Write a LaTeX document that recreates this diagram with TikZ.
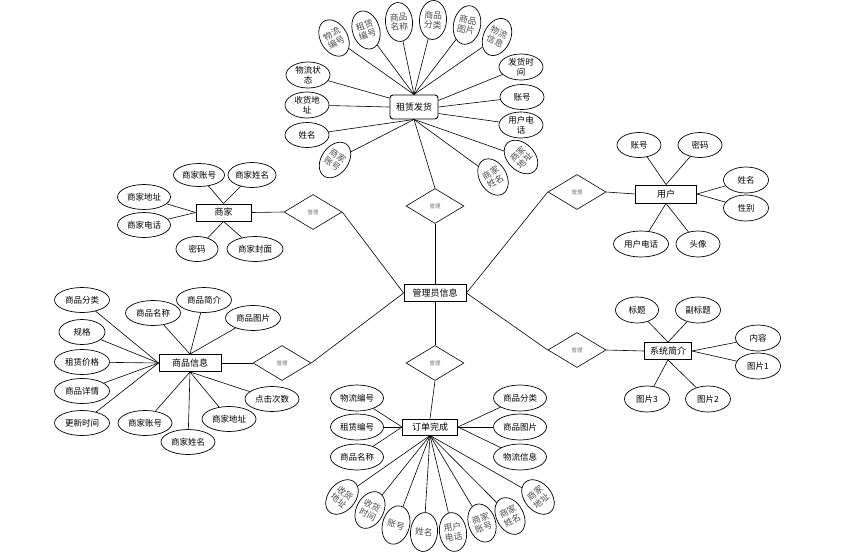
\documentclass[tikz,border=0pt]{standalone}
\usepackage{fontspec}
\newfontfamily\cjk{Noto Sans CJK SC}
\usetikzlibrary{shapes.geometric}

\begin{document}
\begin{tikzpicture}[x=1pt,y=-1pt,
		line width=0.6pt,
		ent/.style={draw,line width=0.9pt,inner sep=0pt,minimum width=#1,minimum height=17pt,font=\cjk\fontsize{9}{10}\selectfont},
		ent/.default=55pt,
		rel/.style={diamond,draw,line width=0.6pt,inner sep=0pt,minimum width=58pt,minimum height=35pt,font=\cjk\fontsize{5.5}{6}\selectfont,text=black!55},
		attr/.style={ellipse,draw,line width=0.7pt,inner sep=0pt,minimum width=#1,minimum height=25pt,align=center,font=\cjk\fontsize{8.5}{9.5}\selectfont},
		attr/.default=44pt,
		rot/.style={ellipse,draw,line width=0.7pt,inner sep=0pt,minimum width=27pt,minimum height=39pt,align=center,font=\cjk\fontsize{8.8}{9.6}\selectfont,text=black!70,rotate=#1},
		rot/.default=0]
	\useasboundingbox (0,0) rectangle (860,555);

	% Entities
	\node[ent=62pt] (admin) at (435,293) {管理员信息};
	\node[ent=48pt,minimum height=24pt,rounded corners=3pt] (rent) at (414,107) {租赁发货};
	\node[ent] (shop) at (223.5,212.5) {商家};
	\node[ent=61pt,minimum height=18pt] (user) at (666,194) {用户};
	\node[ent=62pt] (goods) at (190,363) {商品信息};
	\node[ent=47pt] (intro) at (668,351) {系统简介};
	\node[ent,minimum height=16pt] (order) at (430,427) {订单完成};

	% Relations
	\node[rel] (r1) at (435,206) {管理};
	\node[rel] (r2) at (435,363) {管理};
	\node[rel] (r3) at (313,212) {管理};
	\node[rel] (r4) at (577,192) {管理};
	\node[rel] (r5) at (282,363) {管理};
	\node[rel] (r6) at (577,350) {管理};

	\draw (rent.south) -- (r1.north);
	\draw (r1.south) -- (admin.north);
	\draw (admin.south) -- (r2.north);
	\draw (r2.south) -- (order.north);
	\draw (shop.east) -- (r3.west);
	\draw (r3.east) -- (admin.west);
	\draw (r4.east) -- (user.west);
	\draw (r4.west) -- (admin.east);
	\draw (goods.east) -- (r5.west);
	\draw (r5.east) -- (admin.west);
	\draw (r6.east) -- (intro.west);
	\draw (r6.west) -- (admin.east);

	% Attributes of rent
	\node[rot=30] (wlbh) at (334,38) {物流\\编号};
	\node[rot=18] (zlbh) at (366,30) {租赁\\编号};
	\node[rot=5] (spmc) at (399,22) {商品\\名称};
	\node[rot=-3] (spfl) at (433,20) {商品\\分类};
	\node[rot=-12] (sptp) at (467,25) {商品\\图片};
	\node[rot=-25] (wlxx) at (497,37) {物流\\信息};
	\node[attr,minimum height=26pt] (wlzt) at (308,75) {物流状\\态};
	\node[attr,minimum height=26pt] (shdz) at (307,105) {收货地\\址};
	\node[attr] (xm) at (307,135) {姓名};
	\node[rot=-35] (sjzh) at (335,160) {商家\\账号};
	\node[rot=30] (sjxm) at (493,177) {商家\\姓名};
	\node[rot=45] (sjdz) at (521,157) {商家\\地址};
	\node[attr,minimum height=26pt] (fhsj) at (521,67) {发货时\\间};
	\node[attr] (zh) at (522,97) {账号};
	\node[attr,minimum height=26pt] (yhdh) at (521,125) {用户电\\话};

	\foreach \a in {wlbh,zlbh,spmc,spfl,sptp,wlxx}
		\draw (rent.north) -- (\a);
	\draw (rent.160) -- (wlzt);
	\draw (rent.west) -- (shdz);
	\foreach \a in {xm,sjzh,sjxm,sjdz}
		\draw (rent.south) -- (\a);
	\draw (rent.15) -- (fhsj);
	\draw (rent.east) -- (zh);
	\draw (rent.-15) -- (yhdh);

	% Attributes of shop
	\node[attr=51pt,minimum height=23pt] (s1) at (199,175) {商家账号};
	\node[attr=46pt] (s2) at (252,175) {商家姓名};
	\node[attr=53pt] (s3) at (144,197) {商家地址};
	\node[attr=53pt] (s4) at (144,225) {商家电话};
	\node[attr=42pt] (s5) at (197,249) {密码};
	\node[attr=56pt] (s6) at (255,249) {商家封面};

	\draw (shop.north) -- (s1);
	\draw (shop.north) -- (s2);
	\draw (shop.west) -- (s3);
	\draw (shop.west) -- (s4);
	\draw (shop.south) -- (s5);
	\draw (shop.south) -- (s6);

	% Attributes of user
	\node[attr] (u1) at (639,145) {账号};
	\node[attr] (u2) at (700,145) {密码};
	\node[attr=45pt,minimum height=26pt] (u3) at (746,180) {姓名};
	\node[attr=45pt,minimum height=26pt] (u4) at (746,208) {性别};
	\node[attr=55pt,minimum height=26pt] (u5) at (641,244) {用户电话};
	\node[attr,minimum height=26pt] (u6) at (698,244) {头像};

	\draw (user.north) -- (u1);
	\draw (user.north) -- (u2);
	\draw (user.east) -- (u3);
	\draw (user.east) -- (u4);
	\draw (user.south) -- (u5);
	\draw (user.south) -- (u6);

	% Attributes of goods
	\node[attr=55pt] (g1) at (82,300) {商品分类};
	\node[attr=46pt] (g2) at (82,332) {规格};
	\node[attr=55pt] (g3) at (82,362) {租赁价格};
	\node[attr=55pt] (g4) at (82,391) {商品详情};
	\node[attr=55pt] (g5) at (82,423) {更新时间};
	\node[attr=55pt] (g6) at (153,313) {商品名称};
	\node[attr=55pt] (g7) at (204,300) {商品简介};
	\node[attr=55pt] (g8) at (253,318) {商品图片};
	\node[attr=54pt] (g9) at (272,399) {点击次数};
	\node[attr=54pt] (g10) at (229,419) {商家地址};
	\node[attr=54pt] (g11) at (188,442) {商家姓名};
	\node[attr=54pt] (g12) at (145,423) {商家账号};

	\foreach \a in {g1,g2,g3,g4,g5}
		\draw (goods.west) -- (\a);
	\foreach \a in {g6,g7,g8}
		\draw (goods.north) -- (\a);
	\foreach \a in {g9,g10,g11,g12}
		\draw (goods.south) -- (\a);

	% Attributes of intro
	\node[attr=43pt,minimum height=26pt] (i1) at (637,310) {标题};
	\node[attr=45pt,minimum height=26pt] (i2) at (698,310) {副标题};
	\node[attr=45pt,minimum height=26pt] (i3) at (758,338) {内容};
	\node[attr=45pt,minimum height=26pt] (i4) at (758,366) {图片1};
	\node[attr=45pt,minimum height=26pt] (i5) at (647,399) {图片3};
	\node[attr=45pt,minimum height=26pt] (i6) at (708,399) {图片2};

	\draw (intro.north) -- (i1);
	\draw (intro.north) -- (i2);
	\draw (intro.east) -- (i3);
	\draw (intro.east) -- (i4);
	\draw (intro.south) -- (i5);
	\draw (intro.south) -- (i6);

	% Attributes of order
	\node[attr=53pt,minimum height=26pt] (o1) at (357,398) {物流编号};
	\node[attr=53pt,minimum height=26pt] (o2) at (357,427) {租赁编号};
	\node[attr=53pt,minimum height=26pt] (o3) at (357,457) {商品名称};
	\node[attr=53pt,minimum height=26pt] (o4) at (520,398) {商品分类};
	\node[attr=53pt,minimum height=26pt] (o5) at (520,427) {商品图片};
	\node[attr=53pt,minimum height=26pt] (o6) at (520,457) {物流信息};
	\node[rot=-40] (o7) at (342,497) {收货\\地址};
	\node[rot=-28] (o8) at (370,510) {收货\\时间};
	\node[rot=-15] (o9) at (396,525) {账号};
	\node[rot=-5] (o10) at (424,532) {姓名};
	\node[rot=8] (o11) at (453,532) {用户\\电话};
	\node[rot=18] (o12) at (482,523) {商家\\账号};
	\node[rot=28] (o13) at (510,516) {商家\\姓名};
	\node[rot=40] (o14) at (538,497) {商家\\地址};

	\foreach \a in {o1,o2,o3}
		\draw (order.west) -- (\a);
	\foreach \a in {o4,o5,o6}
		\draw (order.east) -- (\a);
	\foreach \a in {o7,o8,o9,o10,o11,o12,o13,o14}
		\draw (order.south) -- (\a);
\end{tikzpicture}
\end{document}
